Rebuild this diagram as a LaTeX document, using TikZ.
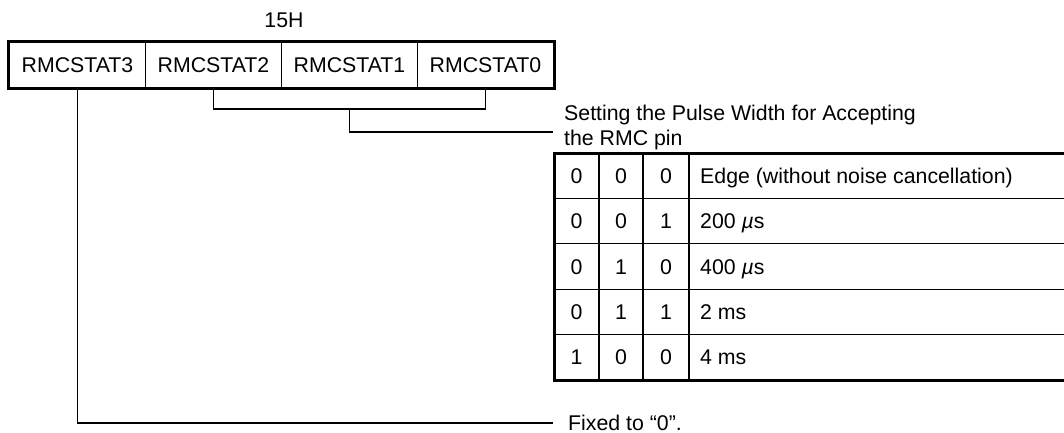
\documentclass[tikz,border=0pt]{standalone}
\usepackage{fontspec}
\setmainfont{Liberation Sans}
\newcommand{\dfont}{\fontsize{21.3}{25}\selectfont}
\begin{document}
\begin{tikzpicture}[x=1pt,y=-1pt,
  thinl/.style={line width=1.2pt},
  thickl/.style={line width=3pt},
  midl/.style={line width=2.2pt},
  conn/.style={line width=1.5pt},
  reg/.style={draw, line width=1.2pt, minimum width=136pt, minimum height=46pt, inner sep=0pt, font=\dfont},
  txt/.style={inner sep=0pt, anchor=base west, font=\dfont},
  bit/.style={inner sep=0pt, anchor=base, font=\dfont}]
\useasboundingbox (0,0) rectangle (1064,433);
% register
\node[bit] (addr) at (284,28) {15H};
\node[reg] (c3) at (77.5,65) {RMCSTAT3};
\node[reg] (c2) at (213.5,65) {RMCSTAT2};
\node[reg] (c1) at (349.5,65) {RMCSTAT1};
\node[reg] (c0) at (485.5,65) {RMCSTAT0};
\draw[thickl] (c3.north west) rectangle (c0.south east);
% bracket for RMCSTAT2..0
\coordinate (bl) at (213.5,109);
\coordinate (bm) at (349.5,109);
\coordinate (se) at (553,132);
\draw[conn] (c2.south) -- (bl) -| (c0.south);
\draw[conn] (bm) |- (se);
\node[txt] (s1) at (564,121) {Setting the Pulse Width for Accepting};
\node[txt] (s2) at (564,145) {the RMC pin};
% table grid
\foreach \yy in {198.4,243.8,289.2,334.6}{
  \draw[thinl] (554,\yy) -- (1064,\yy);
}
\draw[thinl] (599,153) -- (599,380);
\draw[thinl] (643,153) -- (643,380);
\draw[midl] (689,153) -- (689,380);
\draw[thickl] (1064,153) -- (554,153) -- (554,380) -- (1064,380);
% table contents
\foreach \a/\b/\c/\d [count=\i from 0] in {
  0/0/0/Edge (without noise cancellation),
  0/0/1/200 \textit{µ}s,
  0/1/0/400 \textit{µ}s,
  0/1/1/2 ms,
  1/0/0/4 ms}{
  \pgfmathsetmacro\yy{153+45.4*(\i+0.5)+7.6}
  \node[bit] (b\i x) at (576.5,\yy) {\a};
  \node[bit] (b\i y) at (621,\yy) {\b};
  \node[bit] (b\i z) at (666,\yy) {\c};
  \node[txt] (d\i) at (700,\yy) {\d};
}
% fixed bit
\coordinate (fx) at (553,423);
\draw[conn] (c3.south) |- (fx);
\node[txt] (fix) at (568,430) {Fixed to “0”.};
\end{tikzpicture}
\end{document}
